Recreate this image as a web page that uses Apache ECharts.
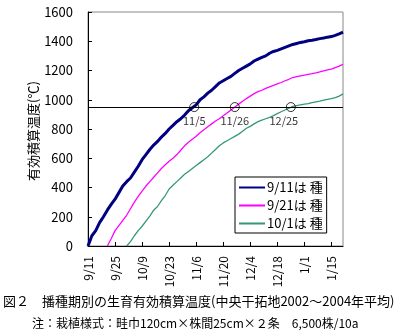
<!DOCTYPE html>
<html><head><meta charset="utf-8">
<script src="https://cdn.jsdelivr.net/npm/echarts@6/dist/echarts.min.js"></script>
<style>html,body{margin:0;padding:0;background:#fff}#c{width:400px;height:334px}</style>
</head><body><div id="c"></div>
<script>
// x = days after 9/11
const xTickLabels = ['9/11','9/25','10/9','10/23','11/6','11/20','12/4','12/18','1/1','1/15'];
const seriesNames = ['9/11は 種','9/21は 種','10/1は 種'];
const days1 = [0,1,2,4,6,8,10,12,14,16,18,20,22,24,26,28,30,32,34,36,38,40,42,44,46,48,50,52,54,56,58,60,62,64,66,68,70,72,74,76,78,80,82,84,86,88,90,92,94,96,98,100,102,104,106,108,110,112,114,116,118,120,122,124,126,128,130,132];
const vals1 = [0,35,70,105,160,200,245,285,320,365,410,440,465,505,545,590,625,660,690,715,745,770,800,825,850,870,895,925,945,965,1000,1020,1045,1065,1090,1115,1130,1145,1160,1180,1200,1215,1230,1245,1265,1278,1290,1300,1318,1330,1338,1348,1358,1368,1378,1385,1392,1397,1403,1407,1412,1418,1422,1428,1432,1440,1450,1462];
const days2 = [10,12,14,16,18,20,22,24,26,28,30,32,34,36,38,40,42,44,46,48,50,52,54,56,58,60,62,64,66,68,70,72,74,76,78,80,82,84,86,88,90,92,94,96,98,100,102,104,106,108,110,112,114,116,118,120,122,124,126,128,130,132];
const vals2 = [0,50,105,140,175,210,255,300,340,375,410,440,470,500,530,555,580,600,625,655,685,710,730,750,775,795,815,835,855,870,890,910,930,950,970,990,1008,1025,1042,1055,1065,1078,1088,1098,1108,1118,1130,1140,1152,1158,1163,1168,1174,1178,1183,1190,1198,1204,1210,1220,1230,1242];
const days3 = [20,22,24,26,28,30,32,34,36,38,40,42,44,46,48,50,52,54,56,58,60,62,64,66,68,70,72,74,76,78,80,82,84,86,88,90,92,94,96,98,100,102,104,106,108,110,112,114,116,118,120,122,124,126,128,130,132];
const vals3 = [0,30,70,105,135,170,205,245,270,310,345,390,415,440,465,490,510,530,550,570,590,610,635,660,685,705,720,735,750,765,785,805,818,835,850,860,870,880,892,905,918,930,942,955,960,965,970,973,980,985,990,997,1003,1008,1015,1025,1040];
const threshold = 950;
const crossDays = [55,76,105];
const crossLabels = ['11/5','11/26','12/25'];
const yTicks = [0,200,400,600,800,1000,1200,1400,1600];

const FONT = '"Noto Sans CJK JP", sans-serif';
const zip = (a,b) => a.map((d,i)=>[d,b[i]]);
const chart = echarts.init(document.getElementById('c'), null, {renderer:'canvas'});
chart.setOption({
  animation:false,
  backgroundColor:'#fff',
  textStyle:{fontFamily:FONT},
  grid:{left:88,right:57,top:12,bottom:88,show:true,borderColor:'#888',borderWidth:1,backgroundColor:'transparent'},
  xAxis:{type:'value',min:0,max:132,interval:14,
    axisLine:{show:true,lineStyle:{color:'#000',width:1}},
    axisTick:{show:true,inside:true,length:4,lineStyle:{color:'#000'}},
    splitLine:{show:false},
    axisLabel:{rotate:90,margin:10,fontSize:12,color:'#000',fontFamily:FONT,showMaxLabel:false,
      formatter:v=> (v%14===0 && v/14<xTickLabels.length) ? xTickLabels[v/14] : ''}},
  yAxis:{type:'value',min:yTicks[0],max:yTicks[yTicks.length-1],interval:200,
    axisLine:{show:true,lineStyle:{color:'#000',width:1}},
    axisTick:{show:true,inside:true,length:4,lineStyle:{color:'#000'}},
    splitLine:{show:false},
    axisLabel:{margin:15,fontSize:13,color:'#000',fontFamily:FONT,formatter:v=>String(v)}},
  legend:{orient:'vertical',left:235,top:177,padding:[4,4,3,3],itemGap:5,itemWidth:26,itemHeight:13,
    borderColor:'#000',borderWidth:1,backgroundColor:'#fff',
    itemStyle:{opacity:0},
    textStyle:{fontSize:13,color:'#000',fontFamily:FONT,padding:[0,0,0,-3]},
    data:seriesNames},
  series:[
    {name:seriesNames[0],type:'line',data:zip(days1,vals1),symbol:'none',lineStyle:{color:'#000080',width:3},itemStyle:{color:'#000080'},z:3,
      markLine:{silent:true,symbol:'none',label:{show:false},lineStyle:{color:'#000',width:1.2,type:'solid'},data:[{yAxis:threshold}]}},
    {name:seriesNames[1],type:'line',data:zip(days2,vals2),symbol:'none',lineStyle:{color:'#ff00ff',width:1.3},itemStyle:{color:'#ff00ff'},z:3},
    {name:seriesNames[2],type:'line',data:zip(days3,vals3),symbol:'none',lineStyle:{color:'#339977',width:1.3},itemStyle:{color:'#339977'},z:3},
    {type:'scatter',data:crossDays.map((d,i)=>({value:[d,threshold],label:{offset:[i===2?-7:0,0]}})),symbol:'circle',symbolSize:9,z:5,
      itemStyle:{color:'rgba(0,0,0,0)',borderColor:'#000',borderWidth:1},
      label:{show:true,position:'bottom',distance:3,fontSize:11,color:'#000',fontFamily:FONT,
        formatter:p=>crossLabels[p.dataIndex]}}
  ],
  graphic:[
    {type:'text',x:33,y:131,rotation:Math.PI/2,style:{text:'有効積算温度(℃)',font:'13px '+FONT,fill:'#000',align:'center',verticalAlign:'middle'}},
    {type:'text',left:3,top:295,style:{text:'図２　播種期別の生育有効積算温度(中央干拓地2002～2004年平均)',font:'13px '+FONT,fill:'#000'}},
    {type:'text',left:32,top:317,style:{text:'注：栽植様式：畦巾120cm×株間25cm×２条　6,500株/10a',font:'12px '+FONT,fill:'#000'}}
  ]
});
</script></body></html>
